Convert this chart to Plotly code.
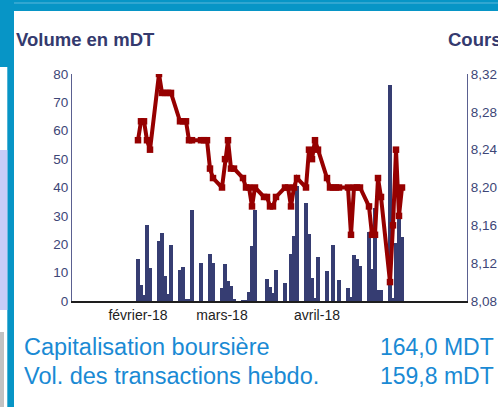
import plotly.graph_objects as go
import pandas as pd

# ---------------- data ----------------
trading_days = pd.bdate_range("2018-01-29", periods=65)

volume_mdt = [
    14.8, 5.6, 2.1, 26.8, 11.6,
    21.1, 24.0, 8.8, 2.5, 19.7,
    10.9, 12.0, 0.7, 0.7, 32.1,
    13.4, 0.0, 0.0, 16.6, 13.4,
    4.6, 13.0, 7.0, 5.3, 0.7,
    0.3, 0.3, 3.1, 19.4, 32.1,
    0.0, 7.7, 4.9, 2.8, 10.9,
    6.3, 0.0, 16.6, 22.9, 40.5,
    34.5, 23.6, 8.1, 1.0, 15.5,
    10.6, 0.0, 19.7, 0.0, 7.4,
    4.6, 1.3, 16.2, 14.8, 12.3,
    24.3, 11.3, 32.8, 3.9, 3.9,
    76.1, 1.1, 20.4, 28.9, 22.6,
]

cours = [
    8.25, 8.27, 8.27, 8.25, 8.24,
    8.32, 8.30, 8.30, 8.30, 8.30,
    8.27, 8.27, 8.27, 8.25, 8.25,
    8.25, 8.25, 8.25, 8.22, 8.21,
    8.20, 8.23, 8.25, 8.22, 8.22,
    8.21, 8.20, 8.20, 8.18, 8.20,
    8.19, 8.19, 8.18, 8.18, 8.19,
    8.20, 8.20, 8.18, 8.20, 8.21,
    8.20, 8.24, 8.23, 8.25, 8.24,
    8.21, 8.20, 8.20, 8.20, 8.20,
    8.20, 8.15, 8.20, 8.20, 8.20,
    8.18, 8.15, 8.15, 8.21, 8.19,
    8.10, 8.16, 8.24, 8.17, 8.20,
]

x_tick_dates = ["2018-01-29", "2018-02-26", "2018-03-29 16:00"]
x_tick_labels = ["février-18", "mars-18", "avril-18"]

vol_ticks = [0, 10, 20, 30, 40, 50, 60, 70, 80]
cours_ticks = [8.08, 8.12, 8.16, 8.20, 8.24, 8.28, 8.32]
cours_tick_labels = [f"{v:.2f}".replace(".", ",") for v in cours_ticks]

title_left = "Volume en mDT"
title_right = "Cours"
info_labels = ["Capitalisation boursière", "Vol. des transactions hebdo."]
info_values = ["164,0 MDT", "159,8 mDT"]

# ---------------- layout helpers ----------------
W, H = 498, 407
L, R, T, B = 72, 31, 74, 106
PW, PH = W - L - R, H - T - B


def px(x):
    return (x - L) / PW


def py(y):
    return (H - B - y) / PH


FONT = "Liberation Sans, Arial, sans-serif"
NAVY = "#363d72"
RED = "#960000"
TEAL = "#0795c6"
AXIS = "#5a6090"
TICK = "#3d4677"
BLUE_TXT = "#1a8ad4"

fig = go.Figure()
fig.add_trace(go.Bar(
    x=trading_days, y=volume_mdt, marker=dict(color=NAVY, line=dict(width=0)),
    width=86400000 * 1.05, yaxis="y", showlegend=False,
))
fig.add_trace(go.Scatter(
    x=trading_days, y=cours, mode="lines+markers", yaxis="y2",
    line=dict(color=RED, width=4),
    marker=dict(symbol="square", size=6.5, color=RED),
    showlegend=False,
))

shapes = [
    dict(type="rect", xref="paper", yref="paper", x0=px(0), x1=px(W), y0=py(0), y1=py(11),
         fillcolor=TEAL, line=dict(width=0), layer="below"),
    dict(type="line", xref="paper", yref="paper", x0=px(0), x1=px(W), y0=py(3), y1=py(3),
         line=dict(color="#5cb8dc", width=1), layer="below"),
    dict(type="rect", xref="paper", yref="paper", x0=px(0), x1=px(14), y0=py(0), y1=py(67),
         fillcolor=TEAL, line=dict(width=0), layer="below"),
    dict(type="rect", xref="paper", yref="paper", x0=px(7.3), x1=px(14), y0=py(67), y1=py(H),
         fillcolor=TEAL, line=dict(width=0), layer="below"),
    dict(type="rect", xref="paper", yref="paper", x0=px(0), x1=px(7.3), y0=py(150), y1=py(310),
         fillcolor="#c8cdf8", line=dict(width=0), layer="below"),
    dict(type="rect", xref="paper", yref="paper", x0=px(0), x1=px(4), y0=py(332), y1=py(H),
         fillcolor="#c2c2c2", line=dict(width=0), layer="below"),
]

annotations = [
    dict(text=f"<b>{title_left}</b>", x=px(15), y=py(40), xref="paper", yref="paper",
         xanchor="left", yanchor="middle", showarrow=False, borderpad=0,
         font=dict(family=FONT, size=18.5, color="#343a6e")),
    dict(text=f"<b>{title_right}</b>", x=px(447), y=py(40), xref="paper", yref="paper",
         xanchor="left", yanchor="middle", showarrow=False, borderpad=0,
         font=dict(family=FONT, size=18.5, color="#343a6e")),
]
for i, (lab, val) in enumerate(zip(info_labels, info_values)):
    yy = [347, 375.5][i]
    annotations.append(dict(text=lab, x=px(23), y=py(yy), xref="paper", yref="paper",
                            xanchor="left", yanchor="middle", showarrow=False, borderpad=0,
                            font=dict(family=FONT, size=23.5, color=BLUE_TXT)))
    annotations.append(dict(text=val, x=px(495), y=py(yy), xref="paper", yref="paper",
                            xanchor="right", yanchor="middle", showarrow=False, borderpad=0,
                            font=dict(family=FONT, size=23, color=BLUE_TXT)))

fig.update_layout(
    width=W, height=H,
    margin=dict(l=L, r=R, t=T, b=B, pad=0, autoexpand=False),
    paper_bgcolor="white", plot_bgcolor="white",
    bargap=0,
    font=dict(family=FONT),
    xaxis=dict(
        type="date", range=["2018-01-07", "2018-05-18 16:00"],
        tickvals=x_tick_dates, ticktext=x_tick_labels,
        showgrid=False, zeroline=False, ticks="", automargin=False,
        showline=True, linecolor="#1e1e1e", linewidth=1.5,
        tickfont=dict(family=FONT, size=14, color="#222222"),
    ),
    yaxis=dict(
        range=[0, 80], tickvals=vol_ticks, showgrid=False, zeroline=False,
        ticks="", showline=True, linecolor=AXIS, linewidth=1, automargin=False,
        tickfont=dict(family=FONT, size=13.5, color=TICK),
    ),
    yaxis2=dict(
        range=[8.08, 8.32], overlaying="y", side="right",
        tickvals=cours_ticks, ticktext=cours_tick_labels,
        showgrid=False, zeroline=False, ticks="", automargin=False,
        showline=True, linecolor=AXIS, linewidth=1,
        tickfont=dict(family=FONT, size=13.5, color=TICK),
    ),
    shapes=shapes,
    annotations=annotations,
)

fig.write_html(
    "out.html",
    config={"displayModeBar": False},
    post_script="document.body.style.margin='0';document.body.style.overflow='hidden';",
)
